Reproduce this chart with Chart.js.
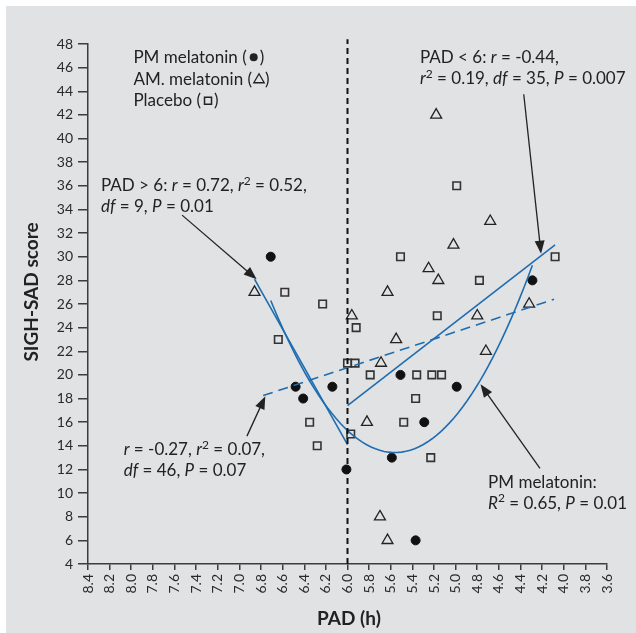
<!DOCTYPE html>
<html>
<head>
<meta charset="utf-8">
<script src="https://cdn.jsdelivr.net/npm/chart.js@4.4.1/dist/chart.umd.min.js"></script>
<style>
  html, body { margin: 0; padding: 0; background: #fff; }
  canvas { display: block; }
</style>
</head>
<body>
<canvas id="padChart" width="636" height="633"></canvas>
<script>
'use strict';

// PM melatonin (filled circles)
var pmPad = [6.71, 6.48, 6.41, 6.14, 6.01, 5.59, 5.51, 5.37, 5.29, 4.99, 4.29];
var pmScore = [30, 19, 18, 19, 12, 13, 20, 6, 16, 19, 28];

// AM melatonin (open triangles)
var amPad = [6.86, 5.96, 5.82, 5.70, 5.69, 5.63, 5.63, 5.55, 5.25, 5.18, 5.16, 5.02, 4.80, 4.72, 4.68, 4.32];
var amScore = [27, 25, 16, 8, 21, 27, 6, 23, 29, 42, 28, 31, 25, 22, 33, 26];

// Placebo (open squares)
var placeboPad = [6.64, 6.58, 6.35, 6.28, 6.23, 6.00, 5.97, 5.93, 5.92, 5.79, 5.51, 5.48, 5.37, 5.36, 5.23, 5.22, 5.17, 5.13, 4.99, 4.78, 4.08];
var placeboScore = [23, 27, 16, 14, 26, 21, 15, 21, 24, 20, 30, 16, 18, 20, 13, 20, 25, 20, 36, 28, 30];

// regression lines (end points, PAD / score)
var fitAbovePad = [6.86, 6.0];
var fitAboveScore = [28.1, 14.1];
var fitBelowPad = [6.0, 4.08];
var fitBelowScore = [17.4, 31.0];
var fitAllPad = [6.78, 4.09];
var fitAllScore = [18.25, 26.4];

// quadratic fit, PM melatonin: score = a * (pad - h)^2 + k
var pmCurve = [9.78, 5.563, 13.43];
var pmCurveRange = [6.71, 4.29];

var cutoffPad = [6.0, 6.0];
var cutoffScore = [4, 48.4];

var xTicks = [3.6, 8.4, 0.2];
var yTicks = [4, 48, 2];

var blue = '#1f6db1';
var ink = '#222222';
var axisColor = '#3c3c3c';
var fontFamily = 'Lato, "Open Sans", sans-serif';

function toPoints(xs, ys) {
  return xs.map(function (x, i) { return {x: x, y: ys[i]}; });
}

var pmCurvePoints = [];
for (var i = 0; i <= 60; i++) {
  var p = pmCurveRange[0] + (pmCurveRange[1] - pmCurveRange[0]) * i / 60;
  pmCurvePoints.push({x: p, y: pmCurve[0] * Math.pow(p - pmCurve[1], 2) + pmCurve[2]});
}

// annotation texts: {..} italic, ^2 superscript
var notes = [
  {pad: 8.28, score: 36.05, lines: ['PAD > 6: {r} = 0.72, {r}^2 = 0.52,', '{df} = 9, {P} = 0.01'], from: [7.53, 33.52], to: [6.84, 28.1]},
  {pad: 5.33, score: 46.88, lines: ['PAD < 6: {r} = -0.44,', '{r}^2 = 0.19, {df} = 35, {P} = 0.007'], from: [4.37, 43.75], to: [4.21, 30.26]},
  {pad: 8.07, score: 13.72, lines: ['{r} = -0.27, {r}^2 = 0.07,', '{df} = 46, {P} = 0.07'], from: [6.93, 14.82], to: [6.76, 18.2]},
  {pad: 4.70, score: 10.97, lines: ['PM melatonin:', '{R}^2 = 0.65, {P} = 0.01'], from: [4.22, 12.1], to: [4.77, 19.2]}
];

var legendItems = [
  ['PM melatonin (', 'circle'],
  ['AM. melatonin (', 'triangle'],
  ['Placebo (', 'rect']
];

function drawRich(ctx, x, y, text, size) {
  var parts = text.split(/(\{[^}]*\}|\^\d)/);
  var baseline = y + size * 0.36;
  parts.forEach(function (part) {
    if (!part) return;
    var str = part, font = size + 'px ' + fontFamily, dy = 0;
    if (part.charAt(0) === '{') {
      str = part.slice(1, -1);
      font = 'italic ' + size + 'px ' + fontFamily;
    } else if (part.charAt(0) === '^') {
      str = part.slice(1);
      font = Math.round(size * 0.72) + 'px ' + fontFamily;
      dy = -size * 0.38;
    }
    ctx.font = font;
    ctx.fillText(str, x, baseline + dy);
    x += ctx.measureText(str).width;
  });
  return x;
}

function drawArrow(ctx, x1, y1, x2, y2) {
  var ang = Math.atan2(y2 - y1, x2 - x1), len = 13, half = 5;
  var c = Math.cos(ang), s = Math.sin(ang);
  ctx.beginPath();
  ctx.moveTo(x1, y1);
  ctx.lineTo(x2 - c * len * 0.8, y2 - s * len * 0.8);
  ctx.stroke();
  ctx.beginPath();
  ctx.moveTo(x2, y2);
  ctx.lineTo(x2 - len * c + half * s, y2 - len * s - half * c);
  ctx.lineTo(x2 - len * c - half * s, y2 - len * s + half * c);
  ctx.closePath();
  ctx.fill();
}

function drawSymbol(ctx, kind, x, y) {
  ctx.beginPath();
  if (kind === 'circle') {
    ctx.arc(x, y, 4, 0, Math.PI * 2);
    ctx.fill();
  } else if (kind === 'triangle') {
    ctx.lineWidth = 1.3;
    ctx.moveTo(x, y - 5);
    ctx.lineTo(x + 5.2, y + 4);
    ctx.lineTo(x - 5.2, y + 4);
    ctx.closePath();
    ctx.stroke();
  } else {
    ctx.lineWidth = 1.5;
    ctx.rect(x - 3.5, y - 3, 7, 7);
    ctx.stroke();
  }
}

var backdrop = {
  id: 'backdrop',
  beforeDraw: function (chart) {
    var ctx = chart.ctx;
    ctx.save();
    ctx.fillStyle = '#ffffff';
    ctx.fillRect(0, 0, chart.width, chart.height);
    ctx.fillStyle = '#e1e2e4';
    ctx.fillRect(6, 6, chart.width - 6, chart.height - 6);
    ctx.restore();
  }
};

var annotations = {
  id: 'annotations',
  afterDraw: function (chart) {
    var ctx = chart.ctx;
    var xs = chart.scales.x, ys = chart.scales.y;
    var size = 17;
    ctx.save();
    ctx.fillStyle = ink;
    ctx.strokeStyle = ink;
    ctx.textAlign = 'left';
    ctx.textBaseline = 'alphabetic';

    notes.forEach(function (note) {
      var x = xs.getPixelForValue(note.pad);
      var y = ys.getPixelForValue(note.score);
      note.lines.forEach(function (line, k) {
        drawRich(ctx, x, y + k * 21, line, size);
      });
      ctx.lineWidth = 1.3;
      drawArrow(ctx,
        xs.getPixelForValue(note.from[0]), ys.getPixelForValue(note.from[1]),
        xs.getPixelForValue(note.to[0]), ys.getPixelForValue(note.to[1]));
    });

    // legend block, top left
    var lx = xs.getPixelForValue(7.98);
    var ly = ys.getPixelForValue(46.88);
    legendItems.forEach(function (item, k) {
      var y = ly + k * 21.5;
      var end = drawRich(ctx, lx, y, item[0], size);
      drawSymbol(ctx, item[1], end + 7, y);
      ctx.font = size + 'px ' + fontFamily;
      ctx.fillText(')', end + 13, y + size * 0.36);
    });

    // axis titles
    ctx.font = 'bold 19px ' + fontFamily;
    ctx.textAlign = 'center';
    ctx.textBaseline = 'middle';
    ctx.fillText('PAD (h)', 349, 619);
    ctx.translate(32, 292);
    ctx.rotate(-Math.PI / 2);
    ctx.fillText('SIGH-SAD score', 0, 0);
    ctx.restore();
  }
};

Chart.defaults.font.family = fontFamily;

var context = document.getElementById('padChart').getContext('2d');
var data = {
  datasets: [
    {
      label: 'cutoff',
      data: toPoints(cutoffPad, cutoffScore),
      showLine: true,
      borderColor: '#111111',
      borderWidth: 2,
      borderDash: [6, 4],
      pointRadius: 0,
      clip: false
    },
    {
      label: 'PAD > 6',
      data: toPoints(fitAbovePad, fitAboveScore),
      showLine: true,
      borderColor: blue,
      borderWidth: 1.6,
      pointRadius: 0
    },
    {
      label: 'PAD < 6',
      data: toPoints(fitBelowPad, fitBelowScore),
      showLine: true,
      borderColor: blue,
      borderWidth: 1.6,
      pointRadius: 0
    },
    {
      label: 'all',
      data: toPoints(fitAllPad, fitAllScore),
      showLine: true,
      borderColor: blue,
      borderWidth: 1.6,
      borderDash: [10, 6],
      pointRadius: 0
    },
    {
      label: 'PM fit',
      data: pmCurvePoints,
      showLine: true,
      borderColor: blue,
      borderWidth: 1.6,
      pointRadius: 0,
      tension: 0
    },
    {
      label: 'PM melatonin',
      data: toPoints(pmPad, pmScore),
      pointStyle: 'circle',
      pointRadius: 4.5,
      backgroundColor: '#111111',
      borderColor: '#111111',
      borderWidth: 1
    },
    {
      label: 'AM. melatonin',
      data: toPoints(amPad, amScore),
      pointStyle: 'triangle',
      pointRadius: 6.3,
      backgroundColor: 'rgba(0,0,0,0)',
      borderColor: '#222222',
      borderWidth: 1.3
    },
    {
      label: 'Placebo',
      data: toPoints(placeboPad, placeboScore),
      pointStyle: 'rect',
      pointRadius: 5.3,
      backgroundColor: 'rgba(0,0,0,0)',
      borderColor: '#333333',
      borderWidth: 1.6
    }
  ]
};

var options = {
  responsive: false,
  animation: false,
  devicePixelRatio: 1,
  layout: {padding: {top: 44, right: 29, left: 0, bottom: 0}},
  plugins: {legend: {display: false}, tooltip: {enabled: false}},
  scales: {
    x: {
      type: 'linear',
      reverse: true,
      min: xTicks[0],
      max: xTicks[1],
      afterFit: function (scale) { scale.height = 69; },
      border: {display: true, color: axisColor, width: 1.5},
      grid: {drawOnChartArea: false, drawTicks: true, tickLength: 6, color: axisColor, lineWidth: 1.5},
      ticks: {
        stepSize: xTicks[2],
        autoSkip: false,
        maxRotation: 90,
        minRotation: 90,
        padding: 4,
        color: '#2a2a2a',
        font: {size: 14},
        callback: function (value) { return Number(value).toFixed(1); }
      }
    },
    y: {
      type: 'linear',
      min: yTicks[0],
      max: yTicks[1],
      afterFit: function (scale) { scale.width = 88; },
      border: {display: true, color: axisColor, width: 1.5},
      grid: {drawOnChartArea: false, drawTicks: true, tickLength: 10, color: axisColor, lineWidth: 1.5},
      ticks: {
        stepSize: yTicks[2],
        autoSkip: false,
        padding: 5,
        color: '#2a2a2a',
        font: {size: 14}
      }
    }
  }
};

var myChart = new Chart(context, {
  type: 'scatter',
  data: data,
  options: options,
  plugins: [backdrop, annotations]
});
</script>
</body>
</html>
